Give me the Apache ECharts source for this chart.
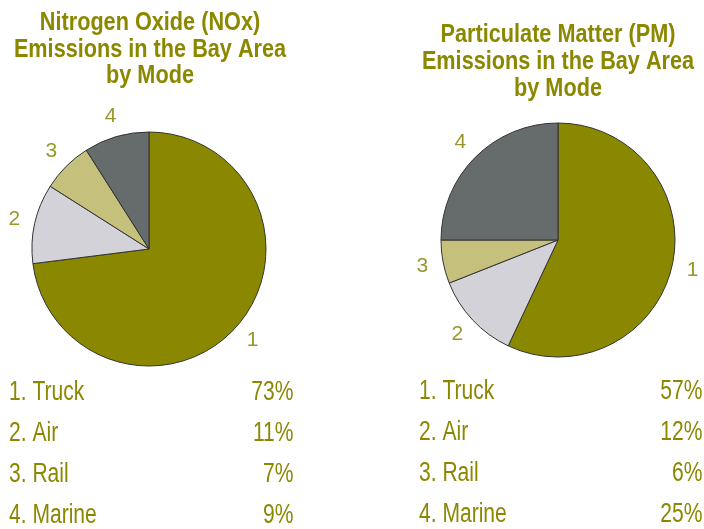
<!DOCTYPE html>
<html>
<head>
<meta charset="utf-8">
<script src="https://cdn.jsdelivr.net/npm/echarts@6/dist/echarts.min.js"></script>
<style>
  html, body { margin: 0; padding: 0; background: #fff; }
  #main { width: 704px; height: 529px; }
</style>
</head>
<body>
<div id="main"></div>
<script>
const modes = ["Truck", "Air", "Rail", "Marine"];
const noxShare = [73, 11, 7, 9];
const pmShare = [57, 12, 6, 25];
const sliceColors = ["#8a8700", "#d3d2d8", "#c5c07c", "#666b6b"];
const noxTitle = ["Nitrogen Oxide (NOx)", "Emissions in the Bay Area", "by Mode"];
const pmTitle = ["Particulate Matter (PM)", "Emissions in the Bay Area", "by Mode"];

const olive = "#8b8800";
const font = "'Liberation Sans', Arial, sans-serif";

const chart = echarts.init(document.getElementById("main"));

// the pie itself, plus a see-through ring just outside it that carries the 1..4 labels
function pieSeries(values, center) {
  const data = values.map((v, i) => ({
    name: modes[i],
    value: v,
    itemStyle: { color: sliceColors[i] }
  }));
  return [
    {
      type: "pie",
      center: center,
      radius: 117,
      startAngle: 90,
      silent: true,
      itemStyle: { borderColor: "#333", borderWidth: 1 },
      label: { show: false },
      labelLine: { show: false },
      data: data
    },
    {
      type: "pie",
      center: center,
      radius: [128, 142],
      startAngle: 90,
      silent: true,
      itemStyle: { color: "rgba(0,0,0,0)", borderWidth: 0 },
      label: {
        show: true,
        position: "inside",
        formatter: (p) => String(p.dataIndex + 1),
        color: "#99972a",
        fontFamily: font,
        fontSize: 21
      },
      labelLine: { show: false },
      data: values.map((v, i) => ({ name: modes[i], value: v }))
    }
  ];
}

function titleText(lines, cx, firstY, gap) {
  return lines.map((t, i) => ({
    type: "text",
    x: cx,
    y: firstY + i * gap,
    scaleX: 0.85,
    silent: true,
    style: {
      text: t,
      fill: olive,
      font: "bold 25.5px " + font,
      align: "center",
      verticalAlign: "middle"
    }
  }));
}

function tableText(values, labelX, valueX, firstY, gap) {
  const els = [];
  modes.forEach((m, i) => {
    const y = firstY + i * gap;
    els.push({
      type: "text", x: labelX, y: y, scaleX: 0.78, silent: true,
      style: { text: (i + 1) + ". " + m, fill: olive, font: "27px " + font, align: "left", verticalAlign: "middle" }
    });
    els.push({
      type: "text", x: valueX, y: y, scaleX: 0.78, silent: true,
      style: { text: values[i] + "%", fill: olive, font: "27px " + font, align: "right", verticalAlign: "middle" }
    });
  });
  return els;
}

const option = {
  animation: false,
  graphic: [
    ...titleText(noxTitle, 150, 23, 26.5),
    ...titleText(pmTitle, 558, 35, 27),
    ...tableText(noxShare, 9, 293.5, 393, 40.9),
    ...tableText(pmShare, 419, 702.5, 392, 40.9)
  ],
  series: [
    ...pieSeries(noxShare, [149, 249]),
    ...pieSeries(pmShare, [558, 240])
  ]
};

chart.setOption(option);
</script>
</body>
</html>
